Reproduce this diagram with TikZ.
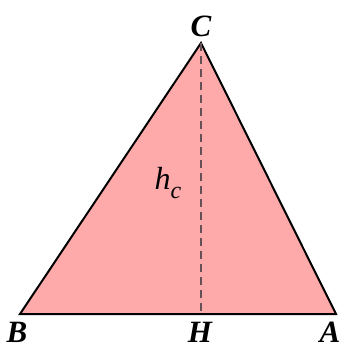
\documentclass[tikz,border=0pt]{standalone}
\usepackage{fontspec}
\setmainfont{Liberation Serif}
\usepackage{xcolor}
\usetikzlibrary{positioning,calc}
\definecolor{trifill}{RGB}{255,170,170}
\definecolor{heightcol}{RGB}{100,80,85}
\tikzset{
  vlabel/.style={font=\fontsize{15.5}{18}\selectfont\bfseries\itshape, inner sep=0pt},
  hlabel/.style={font=\fontsize{16}{18}\selectfont\itshape, inner sep=0pt},
  side/.style={draw=black, line width=1pt, fill=trifill, line join=miter},
  altitude/.style={draw=heightcol, line width=0.8pt, dash pattern=on 4pt off 2.5pt},
}
\begin{document}
\begin{tikzpicture}[x=0.5pt,y=-0.5pt]
\useasboundingbox (0,0) rectangle (341,347);

% ---------- vertices ----------
\coordinate (B) at (20,314);
\coordinate (A) at (336,314);
\coordinate (C) at (201,43);
\coordinate (H) at (201,314);

% ---------- triangle and height ----------
\path[side] (B) -- (A) -- (C) -- cycle;
\draw[altitude] (C) -- (H);

% ---------- labels ----------
\node[vlabel] (lC) at (201,26) {C};
\node[vlabel] (lB) at (17,332) {B};
\node[vlabel] (lH) at (200,332) {H};
\node[vlabel] (lA) at (330,332) {A};
\node[hlabel] (lh) at (168,183) {h\raisebox{-0.3em}{\fontsize{12}{14}\selectfont c}};

\end{tikzpicture}
\end{document}
